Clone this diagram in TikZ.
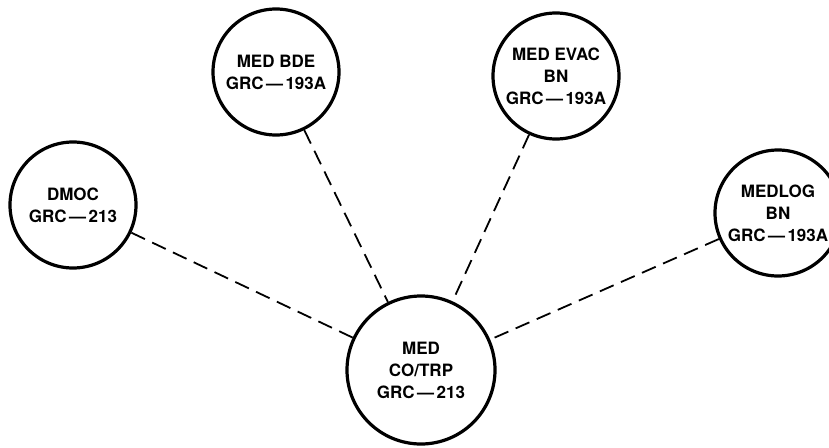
\documentclass[tikz,border=0pt]{standalone}
\usepackage{fontspec}
\setmainfont{TeX Gyre Heros}
\newcommand{\dsh}{\kern2.5pt—\kern2.5pt}
\begin{document}
\begin{tikzpicture}[x=1pt,y=-1pt,
  station/.style={circle,draw,line width=3.2pt,minimum size=126pt,inner sep=0pt,align=center,
    font=\bfseries\fontsize{17}{22}\selectfont},
  link/.style={line width=1.8pt,dash pattern=on 15pt off 8pt}]
\useasboundingbox (0,0) rectangle (829,447);
\node[station] (dmoc) at (73,205) {DMOC\\GRC\dsh213};
\node[station] (bde) at (276,72) {MED BDE\\GRC\dsh193A};
\node[station] (evac) at (556,76) {MED EVAC\\BN\\GRC\dsh193A};
\node[station] (medlog) at (778,213) {MEDLOG\\BN\\GRC\dsh193A};
\node[station,minimum size=148pt] (main) at (421,370) {MED\\CO/TRP\\GRC\dsh213};
\draw[link] (dmoc) -- (main);
\draw[link] (bde) -- (main);
\draw[link] (evac) -- (main);
\draw[link] (medlog) -- (main);
\end{tikzpicture}
\end{document}
